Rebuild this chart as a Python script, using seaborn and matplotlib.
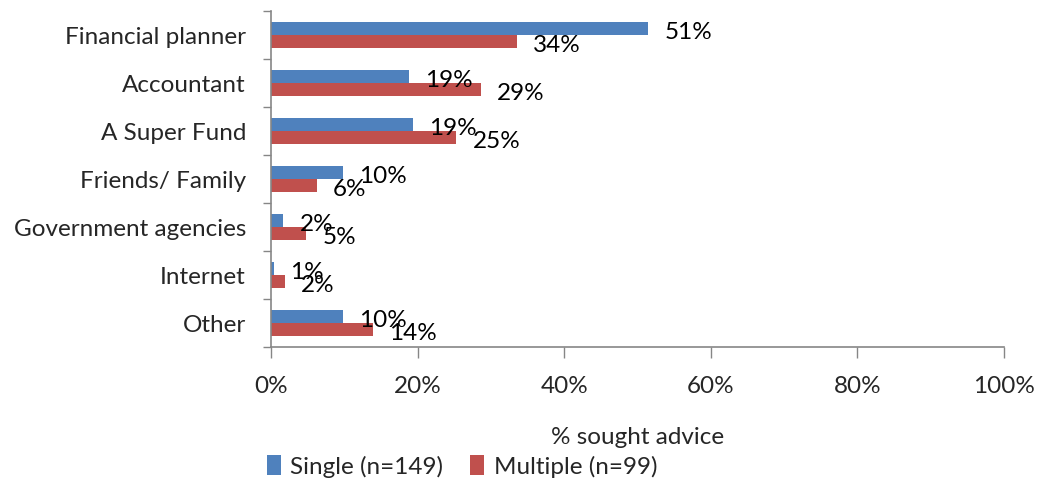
import matplotlib
matplotlib.use("Agg")
import matplotlib.pyplot as plt
import seaborn as sns
import pandas as pd
import numpy as np
from matplotlib.patches import Patch

categories = ["Financial planner", "Accountant", "A Super Fund", "Friends/ Family",
              "Government agencies", "Internet", "Other"]
single = [51.5, 18.8, 19.4, 9.8, 1.7, 0.4, 9.8]
multiple = [33.6, 28.7, 25.3, 6.3, 4.8, 1.9, 13.9]
single_labels = ["51%", "19%", "19%", "10%", "2%", "1%", "10%"]
multiple_labels = ["34%", "29%", "25%", "6%", "5%", "2%", "14%"]
series_names = ["Single (n=149)", "Multiple (n=99)"]
colors = ["#4F81BD", "#C0504D"]
xticks = [0, 20, 40, 60, 80, 100]

df = pd.DataFrame({
    "category": categories * 2,
    "value": single + multiple,
    "series": [series_names[0]] * len(categories) + [series_names[1]] * len(categories),
})

sns.set_theme(style="white")
plt.rcParams["font.family"] = ["Lato", "DejaVu Sans"]
FS = 17.5

fig = plt.figure(figsize=(10.39, 4.85), dpi=100)
ax = fig.add_axes([271 / 1039, 1 - 348 / 485, (1004 - 271) / 1039, (348 - 12) / 485])

sns.barplot(data=df, y="category", x="value", hue="series", orient="h",
            palette=colors, width=0.55, ax=ax, legend=False, saturation=1,
            edgecolor="none")

ax.set_xlim(0, 100)
ax.set_ylim(6.5, -0.5)
ax.set_xticks(xticks)
ax.set_xticklabels([f"{t}%" for t in xticks], fontsize=FS)
ax.set_yticks(range(len(categories)))
ax.set_yticklabels(categories, fontsize=FS)
ax.set_yticks(np.arange(-0.5, len(categories), 1.0), minor=True)
ax.tick_params(axis="y", which="major", length=0, pad=18)
ax.tick_params(axis="y", which="minor", length=6, width=1, color="#868686", left=True)
ax.tick_params(axis="x", which="major", length=8, width=1, color="#868686", bottom=True, pad=12)
ax.set_ylabel("")
ax.set_xlabel("% sought advice", fontsize=FS, labelpad=22)

for s in ["top", "right"]:
    ax.spines[s].set_visible(False)
for s in ["left", "bottom"]:
    ax.spines[s].set_color("#868686")
    ax.spines[s].set_linewidth(1.2)

# data labels
for container, labels in zip(ax.containers, [single_labels, multiple_labels]):
    for bar, lab in zip(container, labels):
        x = bar.get_x() + bar.get_width()
        y = bar.get_y() + bar.get_height() / 2
        ax.annotate(lab, (x, y), xytext=(16, -3), textcoords="offset pixels",
                    ha="left", va="center", fontsize=FS, color="black",
                    annotation_clip=False)

handles = [Patch(facecolor=c, edgecolor="none") for c in colors]
fig.legend(handles, series_names, loc="center", bbox_to_anchor=(462 / 1039, 1 - 467 / 485),
           ncol=2, frameon=False, fontsize=FS, handlelength=0.58, handleheight=0.93,
           handletextpad=0.4, columnspacing=1.1, borderpad=0, borderaxespad=0)

fig.savefig("out.png", dpi=100)
